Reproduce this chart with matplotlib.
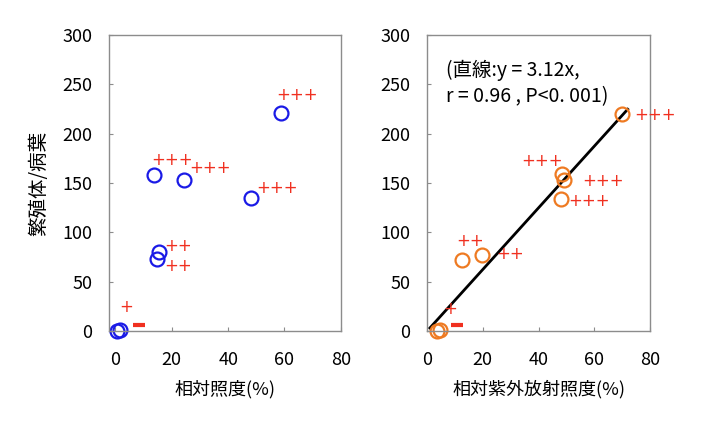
import matplotlib
matplotlib.use("Agg")
import matplotlib.pyplot as plt

plt.rcParams['font.family'] = ['Noto Sans CJK JP', 'DejaVu Sans']

# 左: 相対照度
light_x = [0.5, 1.5, 13.7, 24.5, 48.2, 58.6, 15.4, 14.9]
light_y = [0.5, 1.0, 157.8, 153.0, 135.0, 221.0, 79.7, 73.0]
light_sym = ['+++', '+++', '+++', '+++', '++', '++', '+', '-']
light_sym_x = [64.6, 20.1, 33.6, 57.3, 22.3, 22.3, 3.8, 8.3]
light_sym_y = [239.0, 173.5, 165.0, 144.6, 86.5, 66.0, 24.6, 6.4]

# 右: 相対紫外放射照度
uv_x = [3.5, 4.5, 12.6, 19.8, 47.9, 48.5, 49.1, 69.8]
uv_y = [0.5, 1.0, 72.0, 76.7, 133.8, 158.8, 153.0, 219.6]
uv_sym = ['+++', '+++', '+++', '+++', '++', '++', '+', '-']
uv_sym_x = [81.8, 41.3, 63.0, 58.1, 15.3, 29.7, 8.2, 10.8]
uv_sym_y = [219.0, 172.3, 152.3, 131.8, 91.5, 78.0, 22.0, 6.4]
slope = 3.12
fit_x = [1.0, 72.0]

yticks = [0, 50, 100, 150, 200, 250, 300]
xticks = [0, 20, 40, 60, 80]

fig = plt.figure(figsize=(7.19, 4.25), dpi=100)
ax1 = fig.add_axes([0.152, 0.221, 0.322, 0.697])
ax2 = fig.add_axes([0.594, 0.221, 0.310, 0.697])


def style(ax, xlim):
    ax.set_xlim(*xlim)
    ax.set_ylim(0, 300)
    ax.set_xticks(xticks)
    ax.set_yticks(yticks)
    for s in ax.spines.values():
        s.set_color('#8c8c8c')
        s.set_linewidth(1.0)
    ax.tick_params(direction='in', length=3, color='#8c8c8c', labelsize=13,
                   pad=12, top=False, right=False)
    ax.tick_params(axis='x', pad=14)


def draw_syms(ax, labels, xs, ys):
    for s, x, y in zip(labels, xs, ys):
        if s == '-':
            ax.plot([x], [y], marker='_', ms=9, mew=3, color='#f03020',
                    clip_on=False)
        else:
            ax.text(x, y, s, color='#f03020', fontsize=12, ha='center',
                    va='center', family='DejaVu Sans', clip_on=False)


style(ax1, (-2.2, 80))
ax1.plot(light_x, light_y, 'o', ms=10, mfc='none', mec='#1a1ae6', mew=1.6,
         clip_on=False)
draw_syms(ax1, light_sym, light_sym_x, light_sym_y)
ax1.set_xlabel('相対照度(%)', fontsize=13, labelpad=8)
ax1.set_ylabel('繁殖体/病葉', fontsize=14, labelpad=10)

style(ax2, (0, 80))
ax2.plot(fit_x, [slope * v for v in fit_x], color='black', lw=2)
ax2.plot(uv_x, uv_y, 'o', ms=10, mfc='none', mec='#ee7a22', mew=1.6,
         clip_on=False)
draw_syms(ax2, uv_sym, uv_sym_x, uv_sym_y)
ax2.text(0.085, 0.915, '(直線:y = 3.12x,\nr = 0.96 , P<0. 001)', transform=ax2.transAxes,
         fontsize=14, ha='left', va='top', linespacing=1.3)
ax2.set_xlabel('相対紫外放射照度(%)', fontsize=13, labelpad=8)

fig.savefig('out.png', dpi=100)
